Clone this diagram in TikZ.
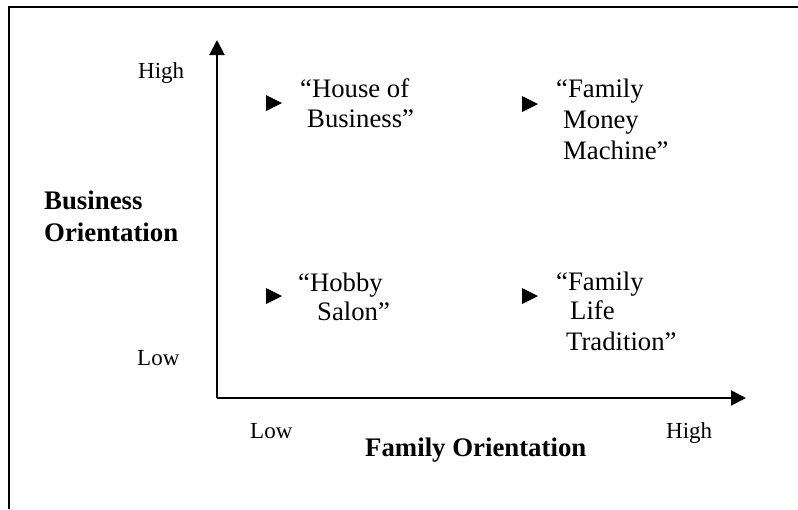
\documentclass[tikz,border=0pt]{standalone}
\usepackage{fontspec}
\setmainfont{Liberation Serif}
\usetikzlibrary{arrows.meta}

\begin{document}
\begin{tikzpicture}[x=1pt,y=-1pt,
  txt/.style={inner sep=0pt,anchor=base west,font=\fontsize{23}{28}\selectfont},
  quad/.style={inner sep=0pt,anchor=base west,font=\fontsize{26.7}{31}\selectfont},
  head/.style={inner sep=0pt,anchor=base west,font=\fontsize{26.8}{32}\selectfont\bfseries},
  axis/.style={line width=2pt,-{Triangle[length=15pt,width=15pt]}},
  marker/.style={fill=black}
]
\useasboundingbox (0,0) rectangle (798,509);

% open frame: top and left edges
\draw[line width=2pt] (798,7) -- (9,7) -- (9,509);

% axes
\coordinate (O) at (217,398);
\coordinate (ytop) at (217,40);
\coordinate (xend) at (746,398);
\draw[axis] (O) -- (ytop);
\draw[axis] (O) -- (xend);

% axis labels
\node[txt] (yhigh) at (138,78) {High};
\node[txt] (ylow) at (137,365) {Low};
\node[txt] (xlow) at (250,438) {Low};
\node[txt] (xhigh) at (666,438) {High};
\node[head] (ytitle1) at (44,209) {Business};
\node[head] (ytitle2) at (44,241) {Orientation};
\node[head] (xtitle) at (365,456) {Family Orientation};

% quadrant markers
\fill[marker] (266,95) -- (282,103) -- (266,111) -- cycle;
\fill[marker] (522,96) -- (538,104) -- (522,112) -- cycle;
\fill[marker] (266,288) -- (282,296) -- (266,304) -- cycle;
\fill[marker] (522,288) -- (538,296) -- (522,304) -- cycle;

% quadrant names
\node[quad] (hb1) at (300,97) {“House of};
\node[quad] (hb2) at (307,127) {Business”};

\node[quad] (fm1) at (556,97) {“Family};
\node[quad] (fm2) at (563,128) {Money};
\node[quad] (fm3) at (563,159) {Machine”};

\node[quad] (hs1) at (298,291) {“Hobby};
\node[quad] (hs2) at (317,320) {Salon”};

\node[quad] (fl1) at (556,290) {“Family};
\node[quad] (fl2) at (570,319) {Life};
\node[quad] (fl3) at (566,350) {Tradition”};
\end{tikzpicture}
\end{document}
